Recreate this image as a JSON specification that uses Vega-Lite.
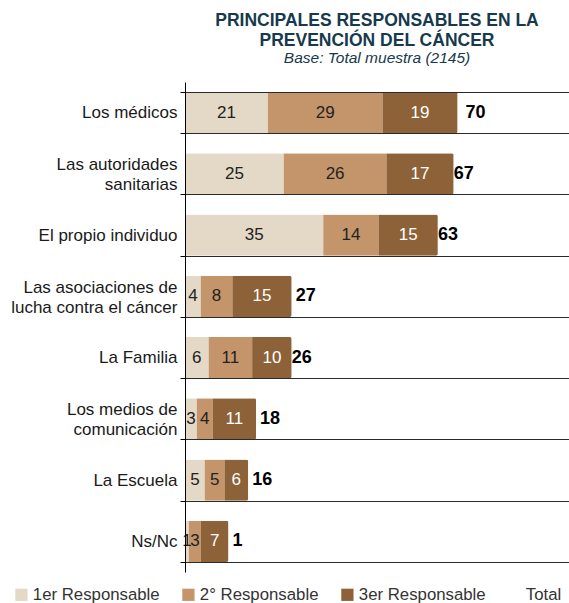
{
  "$schema": "https://vega.github.io/schema/vega-lite/v6.json",
  "autosize": {"type": "none"},
  "padding": {"left": 185, "top": 82, "right": 0, "bottom": 31},
  "width": 384,
  "height": 490,
  "background": "white",
  "title": {
    "text": ["PRINCIPALES RESPONSABLES EN LA", "PREVENCIÓN DEL CÁNCER"],
    "subtitle": "Base: Total muestra (2145)",
    "anchor": "middle",
    "font": "Liberation Sans",
    "fontSize": 17.5,
    "fontWeight": "bold",
    "color": "#17394d",
    "lineHeight": 20,
    "subtitleFont": "Liberation Sans",
    "subtitleFontSize": 15.5,
    "subtitleFontStyle": "italic",
    "subtitleColor": "#17394d",
    "subtitlePadding": 1,
    "offset": 7
  },
  "datasets": {
    "segs": [
      {"cat": "Los médicos", "resp": "1er Responsable", "ord": 1, "value": 21},
      {"cat": "Los médicos", "resp": "2° Responsable", "ord": 2, "value": 29},
      {"cat": "Los médicos", "resp": "3er Responsable", "ord": 3, "value": 19},
      {"cat": "Las autoridades|sanitarias", "resp": "1er Responsable", "ord": 1, "value": 25},
      {"cat": "Las autoridades|sanitarias", "resp": "2° Responsable", "ord": 2, "value": 26},
      {"cat": "Las autoridades|sanitarias", "resp": "3er Responsable", "ord": 3, "value": 17},
      {"cat": "El propio individuo", "resp": "1er Responsable", "ord": 1, "value": 35},
      {"cat": "El propio individuo", "resp": "2° Responsable", "ord": 2, "value": 14},
      {"cat": "El propio individuo", "resp": "3er Responsable", "ord": 3, "value": 15},
      {"cat": "Las asociaciones de|lucha contra el cáncer", "resp": "1er Responsable", "ord": 1, "value": 4},
      {"cat": "Las asociaciones de|lucha contra el cáncer", "resp": "2° Responsable", "ord": 2, "value": 8},
      {"cat": "Las asociaciones de|lucha contra el cáncer", "resp": "3er Responsable", "ord": 3, "value": 15},
      {"cat": "La Familia", "resp": "1er Responsable", "ord": 1, "value": 6},
      {"cat": "La Familia", "resp": "2° Responsable", "ord": 2, "value": 11},
      {"cat": "La Familia", "resp": "3er Responsable", "ord": 3, "value": 10},
      {"cat": "Los medios de|comunicación", "resp": "1er Responsable", "ord": 1, "value": 3},
      {"cat": "Los medios de|comunicación", "resp": "2° Responsable", "ord": 2, "value": 4},
      {"cat": "Los medios de|comunicación", "resp": "3er Responsable", "ord": 3, "value": 11},
      {"cat": "La Escuela", "resp": "1er Responsable", "ord": 1, "value": 5},
      {"cat": "La Escuela", "resp": "2° Responsable", "ord": 2, "value": 5},
      {"cat": "La Escuela", "resp": "3er Responsable", "ord": 3, "value": 6},
      {"cat": "Ns/Nc", "resp": "1er Responsable", "ord": 1, "value": 1},
      {"cat": "Ns/Nc", "resp": "2° Responsable", "ord": 2, "value": 3},
      {"cat": "Ns/Nc", "resp": "3er Responsable", "ord": 3, "value": 7}
    ],
    "totals": [
      {"cat": "Los médicos", "total": 70, "label": "70"},
      {"cat": "Las autoridades|sanitarias", "total": 67, "label": "67"},
      {"cat": "El propio individuo", "total": 63, "label": "63"},
      {"cat": "Las asociaciones de|lucha contra el cáncer", "total": 27, "label": "27"},
      {"cat": "La Familia", "total": 26, "label": "26"},
      {"cat": "Los medios de|comunicación", "total": 18, "label": "18"},
      {"cat": "La Escuela", "total": 16, "label": "16"},
      {"cat": "Ns/Nc", "total": 11, "label": "1"}
    ]
  },
  "encoding": {
    "y": {
      "field": "cat",
      "type": "nominal",
      "scale": {
        "domain": ["Los médicos", "Las autoridades|sanitarias", "El propio individuo", "Las asociaciones de|lucha contra el cáncer", "La Familia", "Los medios de|comunicación", "La Escuela", "Ns/Nc"],
        "paddingInner": 0.33,
        "paddingOuter": 0.165
      },
      "axis": {
        "title": null,
        "labelExpr": "datum.value ? split(datum.value, '|') : ''",
        "tickBand": "extent",
        "grid": true,
        "zindex": 1,
        "gridColor": "#2a2a2a",
        "gridWidth": 1,
        "domainColor": "#000000",
        "tickColor": "#000000",
        "tickSize": 5,
        "labelPadding": 3,
        "labelFont": "Liberation Sans",
        "labelFontSize": 17,
        "labelColor": "#1a1a1a",
        "labelLineHeight": 20,
        "labelLimit": 220,
        "labelOffset": {"condition": {"test": "datum.value && indexof(datum.value, '|') >= 0", "value": -9}, "value": 0}
      }
    }
  },
  "layer": [
    {
      "data": {"name": "segs"},
      "mark": {"type": "bar", "cornerRadius": 2},
      "encoding": {
        "x": {"field": "value", "type": "quantitative", "stack": "zero", "scale": {"domain": [0, 97.2], "nice": false}, "axis": null},
        "color": {
          "field": "resp",
          "type": "nominal",
          "scale": {
            "domain": ["1er Responsable", "2° Responsable", "3er Responsable", "Total"],
            "range": ["#e3d9c6", "#c4956a", "#8d6238", "#ffffff"]
          },
          "legend": {
            "title": null,
            "orient": "none",
            "direction": "horizontal",
            "legendX": -172,
            "legendY": 504,
            "symbolType": "square",
            "symbolSize": 150,
            "symbolStrokeWidth": 0,
            "labelFont": "Liberation Sans",
            "labelFontSize": 16.8,
            "labelColor": "#333333",
            "labelOffset": 3,
            "columnPadding": 20
          }
        },
        "order": {"field": "ord", "type": "quantitative"}
      }
    },
    {
      "data": {"name": "segs"},
      "mark": {"type": "text", "font": "Liberation Sans", "fontSize": 17, "baseline": "middle", "align": "center"},
      "encoding": {
        "x": {"field": "value", "type": "quantitative", "stack": "zero", "bandPosition": 0.5},
        "detail": {"field": "resp"},
        "order": {"field": "ord", "type": "quantitative"},
        "text": {"field": "value", "type": "quantitative"},
        "fill": {"condition": {"test": "datum.resp === '3er Responsable'", "value": "#ffffff"}, "value": "#222222"}
      }
    },
    {
      "data": {"name": "totals"},
      "mark": {"type": "text", "font": "Liberation Sans", "fontSize": 18, "fontWeight": "bold", "baseline": "middle", "align": "left", "dx": 4, "fill": "#000000"},
      "encoding": {
        "x": {"field": "total", "type": "quantitative"},
        "text": {"field": "label"}
      }
    }
  ],
  "config": {
    "view": {"stroke": null}
  }
}
